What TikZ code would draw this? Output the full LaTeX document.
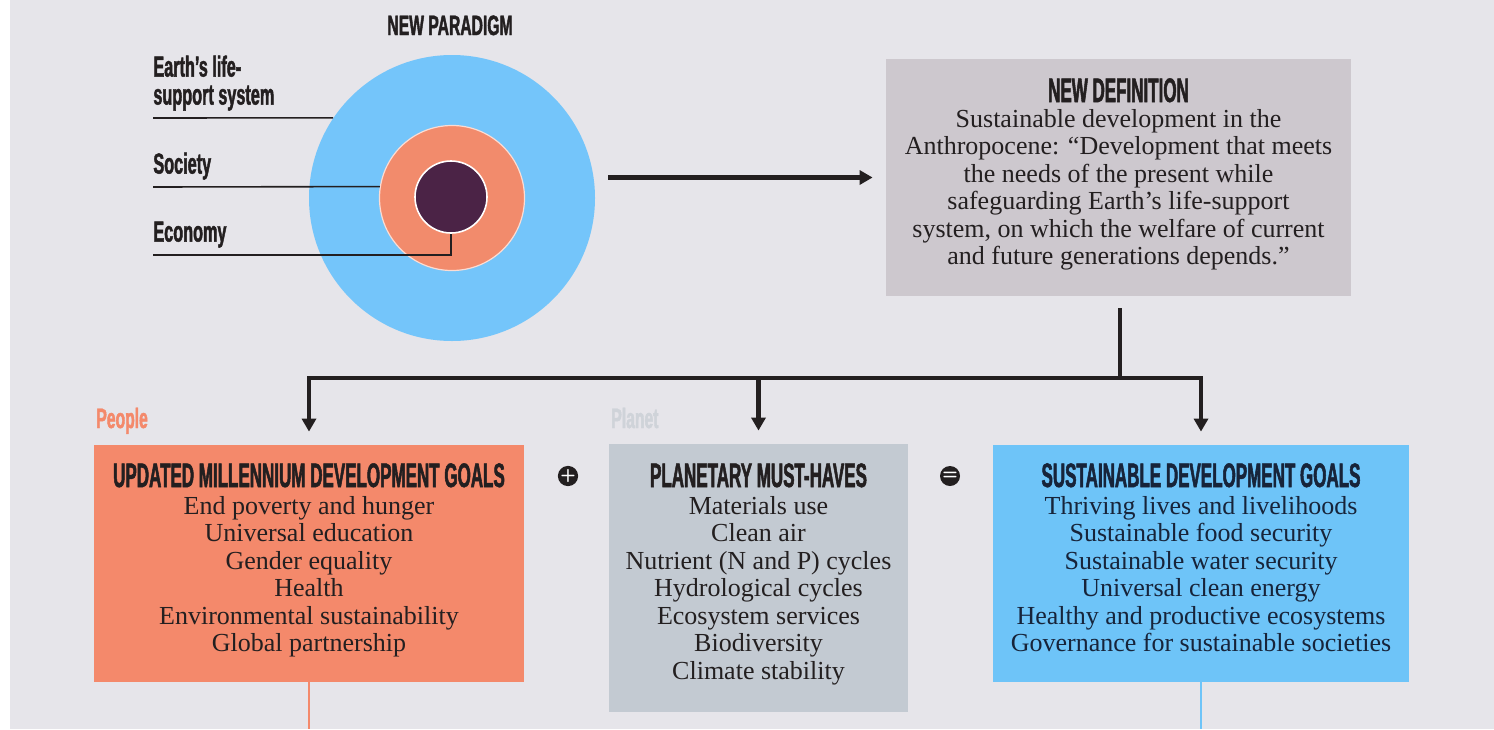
\documentclass[tikz,border=0pt]{standalone}
\usepackage{fontspec}
\setmainfont{Liberation Serif}
\newfontfamily\headfont[FakeStretch=0.5,FakeBold=1.5]{Liberation Sans Bold}
\newfontfamily\labelfont[FakeStretch=0.56,FakeBold=1.5]{Liberation Sans Bold}
\usetikzlibrary{arrows.meta,positioning}

\definecolor{pagebg}{HTML}{E6E5EA}
\definecolor{earthblue}{HTML}{74C5FA}
\definecolor{societyred}{HTML}{F28B6C}
\definecolor{economyplum}{HTML}{4B2346}
\definecolor{defgray}{HTML}{CDC8CE}
\definecolor{peoplered}{HTML}{F4896B}
\definecolor{planetgray}{HTML}{C3CAD2}
\definecolor{goalblue}{HTML}{6EC4F8}
\definecolor{planetlabel}{HTML}{CFD3D9}
\definecolor{ink}{HTML}{231F20}
\definecolor{goalink}{HTML}{17243A}

\tikzset{
	flow/.style={draw=ink, line width=2.3pt, -{Triangle[length=6.5pt,width=7pt]}, shorten >=6.5pt},
	bar/.style={draw=ink, line width=2.3pt, line cap=rect},
	leader/.style={draw=ink, line width=0.8pt},
	ring/.style={circle, inner sep=0pt},
	panel/.style={rectangle, inner sep=0pt},
	paneltitle/.style={anchor=base, inner sep=0pt, font=\headfont\fontsize{17}{17}\selectfont},
	panelitem/.style={anchor=base, inner sep=0pt, font=\fontsize{13}{13.75}\selectfont},
	tag/.style={inner sep=0pt, align=left, text=ink, font=\labelfont\fontsize{14.5}{14}\selectfont},
	sign/.style={circle, fill=ink, minimum size=10pt, inner sep=0pt, text=white, font=\sffamily\bfseries\fontsize{9}{9}\selectfont},
}

% one centred line per entry, 27.5px apart, first baseline at #4
\newcommand{\panellist}[5]{
	\foreach \itemtext [count=\i] in {#5}
		\node[panelitem, text=#2] (#1-\i) at (#3, {#4+27.5*(\i-1)}) {\itemtext};
}

\begin{document}
\begin{tikzpicture}[x=0.5pt,y=-0.5pt]
\useasboundingbox (0,0) rectangle (1494,729);
\fill[white] (0,0) rectangle (1494,729);
\fill[pagebg] (10,0) rectangle (1494,729);

\pgfmathsetmacro{\forkY}{378}
\pgfmathsetmacro{\titleY}{487}
\pgfmathsetmacro{\itemY}{514}

% nested circles
\node[ring, fill=earthblue, minimum size=143pt] (earth) at (452,198) {};
\node[ring, fill=societyred, draw=white!70!societyred, line width=0.6pt, minimum size=72.5pt] (society) at (452,198) {};
\node[ring, fill=economyplum, draw=white, line width=0.8pt, minimum size=36pt] (economy) at (451,197) {};
\node[anchor=base, inner sep=0pt, text=ink, font=\labelfont\fontsize{14}{14}\selectfont] (paradigm) at (450,35) {NEW PARADIGM};

\coordinate (earthEnd) at (153,118);
\coordinate (societyEnd) at (153,187);
\coordinate (economyEnd) at (153,255);
\node[tag, above right=3.5pt and 0pt of earthEnd] (earthTag) {Earth’s life-\\support system};
\node[tag, above right=3.5pt and 0pt of societyEnd] (societyTag) {Society};
\node[tag, above right=3.5pt and 0pt of economyEnd] (economyTag) {Economy};
\draw[leader] (earthEnd) -- (earth.146);
\draw[leader] (societyEnd) -- (society.171);
\draw[leader] (economyEnd) -- (economy.south |- economyEnd) -- (economy.south);

% definition
\node[panel, fill=defgray, minimum width=232.5pt, minimum height=118.5pt] (def) at (1118.5,177.5) {};
\node[paneltitle, text=ink] (defTitle) at (1118.5,102) {NEW DEFINITION};
\panellist{def}{ink}{1118.5}{127}{Sustainable development in the,
	Anthropocene: “Development that meets,
	the needs of the present while,
	safeguarding Earth’s life-support,
	{system, on which the welfare of current},
	and future generations depends.”}

\draw[flow, shorten <=6.5pt] (earth.east |- def.west) -- (def.west);

% the three goal panels
\node[panel, fill=peoplered, minimum width=215pt, minimum height=118.5pt] (mdg) at (309,563.5) {};
\node[panel, fill=planetgray, minimum width=149.5pt, minimum height=134pt] (planet) at (758.5,578) {};
\node[panel, fill=goalblue, minimum width=208pt, minimum height=118.5pt] (sdg) at (1201,563.5) {};

\node[paneltitle, text=ink] (mdgTitle) at (309,\titleY) {UPDATED MILLENNIUM DEVELOPMENT GOALS};
\panellist{mdg}{ink}{309}{\itemY}{End poverty and hunger, Universal education, Gender equality,
	Health, Environmental sustainability, Global partnership}

\node[paneltitle, text=ink] (planetTitle) at (758.5,\titleY) {PLANETARY MUST-HAVES};
\panellist{planet}{ink}{758.5}{\itemY}{Materials use, Clean air, Nutrient (N and P) cycles,
	Hydrological cycles, Ecosystem services, Biodiversity, Climate stability}

\node[paneltitle, text=goalink] (sdgTitle) at (1201,\titleY) {SUSTAINABLE DEVELOPMENT GOALS};
\panellist{sdg}{goalink}{1201}{\itemY}{Thriving lives and livelihoods, Sustainable food security,
	Sustainable water security, Universal clean energy,
	Healthy and productive ecosystems, Governance for sustainable societies}

\node[anchor=base west, inner sep=0pt, text=peoplered, font=\labelfont\fontsize{14}{14}\selectfont] (people) at (96,428) {People};
\node[anchor=base west, inner sep=0pt, text=planetlabel, font=\labelfont\fontsize{14}{14}\selectfont] (planetTag) at (611,428) {Planet};

\node[sign] (plus) at (568,476) {+};
\node[sign] (equals) at (950,476) {=};

% fork from the definition down to the panels
\coordinate (fork) at (1120,\forkY);
\draw[bar, shorten <=7pt] (def.south -| fork) -- (fork);
\draw[bar] (mdg.north |- fork) -- (sdg.north |- fork);
\foreach \p in {mdg,planet,sdg}
	\draw[flow] (\p.north |- fork) -- (\p.north);

\draw[peoplered, line width=0.8pt] (mdg.south) -- (mdg.south |- 0,729);
\draw[goalblue, line width=0.8pt] (sdg.south) -- (sdg.south |- 0,729);
\end{tikzpicture}
\end{document}
